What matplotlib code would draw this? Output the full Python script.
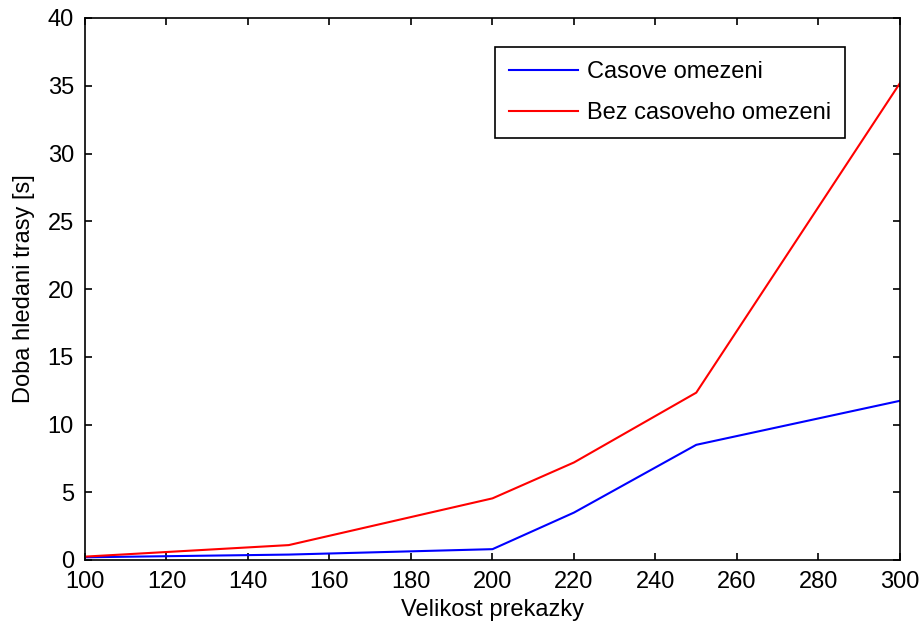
import matplotlib
matplotlib.use("Agg")
import matplotlib.pyplot as plt

x = [100, 150, 200, 220, 250, 300]
casove = [0.2, 0.4, 0.8, 3.5, 8.5, 11.75]
bez = [0.25, 1.1, 4.55, 7.2, 12.35, 35.2]
xticks = list(range(100, 301, 20))
yticks = list(range(0, 41, 5))

plt.rcParams['font.family'] = ['Liberation Sans', 'DejaVu Sans']
fs = 17
plt.rcParams['font.size'] = fs

fig = plt.figure(figsize=(9.2, 6.23), dpi=100)
ax = fig.add_axes([85/920, 63/623, 815/920, 542/623])
ax.plot(x, casove, color='#0000ff', lw=1.5, label='Casove omezeni')
ax.plot(x, bez, color='#ff0000', lw=1.5, label='Bez casoveho omezeni')
ax.set_xlim(100, 300)
ax.set_ylim(0, 40)
ax.set_xticks(xticks)
ax.set_yticks(yticks)
ax.tick_params(direction='in', top=True, right=True, length=5, width=1.2, labelsize=fs)
ax.tick_params(axis='x', pad=8)
ax.tick_params(axis='y', pad=8)
for s in ax.spines.values():
    s.set_linewidth(1.2)
ax.set_xlabel('Velikost prekazky', fontsize=fs, labelpad=4)
ax.set_ylabel('Doba hledani trasy [s]', fontsize=fs, labelpad=9)
leg = ax.legend(loc='upper right', bbox_to_anchor=(0.9325, 0.9465), borderaxespad=0,
                fancybox=False, edgecolor='black', framealpha=1, fontsize=fs,
                handlelength=2.95, handletextpad=0.35, borderpad=0.6, labelspacing=0.8)
leg.get_frame().set_linewidth(1.2)
fig.savefig('out.png', dpi=100)
